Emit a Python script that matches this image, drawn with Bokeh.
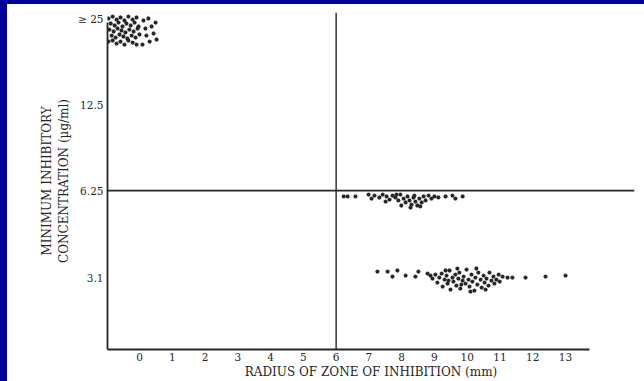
from bokeh.plotting import figure
from bokeh.models import Range1d, FixedTicker, Span, GlobalInlineStyleSheet, ColumnDataSource
from bokeh.embed import file_html
from bokeh.resources import INLINE

# ---------------- data ----------------
radius_ticks = [0, 1, 2, 3, 4, 5, 6, 7, 8, 9, 10, 11, 12, 13]
mic_ticks = [3.1, 6.25, 12.5, 25]
mic_tick_labels = ["3.1", "6.25", "12.5", "\u2265 25"]

breakpoint_radius = 6
breakpoint_mic = 6.25

# MIC >= 25 group (radius ~ 0 mm)
high_radius = [-0.95, -0.82, -0.70, -0.58, -0.46, -0.34, -0.21, -0.09,
               -0.88, -0.76, -0.64, -0.52, -0.40, -0.27, -0.15, -0.03,
               -0.92, -0.79, -0.67, -0.55, -0.43, -0.31, -0.18, -0.06,
               -0.85, -0.73, -0.61, -0.49, -0.37, -0.24, -0.12, 0.00,
               -0.95, -0.82, -0.70, -0.58, -0.46, -0.34, -0.21, -0.09,
               0.12, 0.27, 0.18, 0.37, 0.21, 0.43, 0.31, 0.52, 0.09, 0.49]
high_mic = [25.02, 25.42, 24.81, 25.22, 24.62, 25.42, 24.81, 25.22,
            24.03, 23.65, 24.22, 23.46, 24.03, 23.65, 24.22, 23.46,
            22.89, 22.53, 23.08, 22.71, 22.35, 22.89, 22.53, 23.08,
            21.81, 21.46, 21.99, 21.64, 21.29, 21.81, 21.46, 21.99,
            20.78, 20.95, 20.44, 20.78, 20.28, 20.95, 20.61, 20.28,
            24.62, 25.02, 23.08, 23.46, 21.81, 22.17, 20.78, 21.12, 20.28, 24.22]

# MIC 6.25 group
mid_radius = [6.23, 6.35, 6.59, 6.99, 7.08, 7.17, 7.32, 7.42, 7.54, 7.63,
              7.72, 7.81, 7.90, 7.96, 8.06, 8.12, 8.18, 8.24, 8.30, 8.36,
              8.42, 8.48, 8.54, 8.61, 8.67, 8.73, 8.82, 8.91, 9.00, 9.12,
              9.34, 9.55, 9.64, 9.86, 7.99, 8.27, 8.39, 8.57, 7.84, 7.51]
mid_mic = [5.96, 5.96, 5.96, 6.05, 5.86, 6.00, 5.91, 6.05, 5.96, 5.81,
           6.00, 5.91, 5.77, 6.05, 5.86, 5.68, 5.96, 5.77, 5.58, 5.91,
           5.72, 5.54, 5.86, 5.68, 5.96, 5.77, 6.00, 5.86, 5.96, 5.91,
           5.96, 6.00, 5.86, 5.96, 5.54, 5.45, 6.00, 5.50, 6.05, 5.72]

# MIC 3.1 group
low_radius = [7.26, 7.57, 7.87, 7.72, 8.12, 8.42, 8.51, 8.79, 8.88,
              8.94, 9.03, 9.09, 9.15, 9.22, 9.25, 9.31, 9.37, 9.40, 9.46,
              9.49, 9.55, 9.58, 9.64, 9.67, 9.73, 9.76, 9.79, 9.86, 9.89,
              9.95, 9.98, 10.04, 10.07, 10.13, 10.16, 10.22, 10.25, 10.31, 10.34,
              10.41, 10.44, 10.50, 10.53, 10.59, 10.65, 10.68, 10.74, 10.80, 10.83,
              10.89, 10.96, 10.99, 10.10, 9.70, 9.34, 10.28, 10.56, 9.82, 9.43,
              11.08, 11.23, 11.38, 11.78, 12.39, 13.00]
low_mic = [3.253, 3.253, 3.280, 3.124, 3.149, 3.124, 3.253, 3.201, 3.149,
           3.074, 3.175, 2.977, 3.099, 3.201, 2.882, 3.049, 3.149, 2.953, 3.280,
           2.813, 3.099, 3.001, 3.175, 2.905, 3.074, 3.227, 2.836, 3.025, 3.124,
           2.953, 3.306, 3.049, 2.882, 3.175, 3.001, 2.791, 3.099, 2.929, 3.227,
           3.049, 2.859, 3.149, 2.977, 3.074, 2.905, 3.227, 3.025, 3.124, 2.953,
           3.049, 3.175, 3.001, 2.768, 3.333, 3.280, 3.333, 2.813, 2.929, 3.025,
           3.124, 3.099, 3.099, 3.099, 3.124, 3.149]

# ---------------- figure ----------------
INK = "#262626"
FONT = "DejaVu Serif"

p = figure(width=637, height=377, output_backend="svg", toolbar_location=None,
           x_range=Range1d(-0.977, 15.105), y_range=Range1d(1.735, 26.26),
           y_axis_type="log",
           min_border_left=100, min_border_right=10, min_border_top=8, min_border_bottom=32,
           outline_line_color=None, background_fill_color="white",
           border_fill_color="white")

p.styles = {"margin-left": "7px", "margin-top": "4px"}
p.stylesheets = [GlobalInlineStyleSheet(css=(
    "html{background:"
    "linear-gradient(#000099,#000099) 0 0/100% 4px no-repeat,"
    "linear-gradient(#000099,#000099) 0 0/7px 100% no-repeat,"
    "#ffffff;}"
))]

p.grid.visible = False

for src_x, src_y in [(high_radius, high_mic), (mid_radius, mid_mic), (low_radius, low_mic)]:
    src = ColumnDataSource(dict(x=src_x, y=src_y))
    p.scatter("x", "y", source=src, marker="circle", size=3.8,
              fill_color=INK, line_color=INK, line_width=0.3)

p.add_layout(Span(location=breakpoint_radius, dimension="height",
                  line_color=INK, line_width=1.4))
p.add_layout(Span(location=breakpoint_mic, dimension="width",
                  line_color=INK, line_width=1.8))

# x axis
xa = p.xaxis[0]
xa.ticker = FixedTicker(ticks=radius_ticks, minor_ticks=[])
xa.bounds = (-0.977, 13.73)
xa.axis_label = "RADIUS OF ZONE OF INHIBITION (mm)"

# y axis
ya = p.yaxis[0]
ya.ticker = FixedTicker(ticks=mic_ticks, minor_ticks=[])
ya.major_label_overrides = {t: lab for t, lab in zip(mic_ticks, mic_tick_labels)}
ya.bounds = (1.735, 24.3)
ya.axis_label = "MINIMUM INHIBITORY\nCONCENTRATION (\u00b5g/ml)"

for ax in (xa, ya):
    ax.axis_line_color = INK
    ax.axis_line_width = 1.8
    ax.major_tick_line_color = None
    ax.minor_tick_line_color = None
    ax.major_tick_out = 0
    ax.major_tick_in = 0
    ax.minor_tick_out = 0
    ax.minor_tick_in = 0
    ax.major_label_text_font = FONT
    ax.major_label_text_font_size = "10.5px"
    ax.major_label_text_color = INK
    ax.axis_label_text_font = FONT
    ax.axis_label_text_font_size = "12px"
    ax.axis_label_text_font_style = "normal"
    ax.axis_label_text_color = INK

xa.major_label_standoff = 3
xa.axis_label_standoff = 1
ya.major_label_standoff = 4
ya.axis_label_standoff = 4

open("out.html", "w").write(file_html(p, INLINE))
